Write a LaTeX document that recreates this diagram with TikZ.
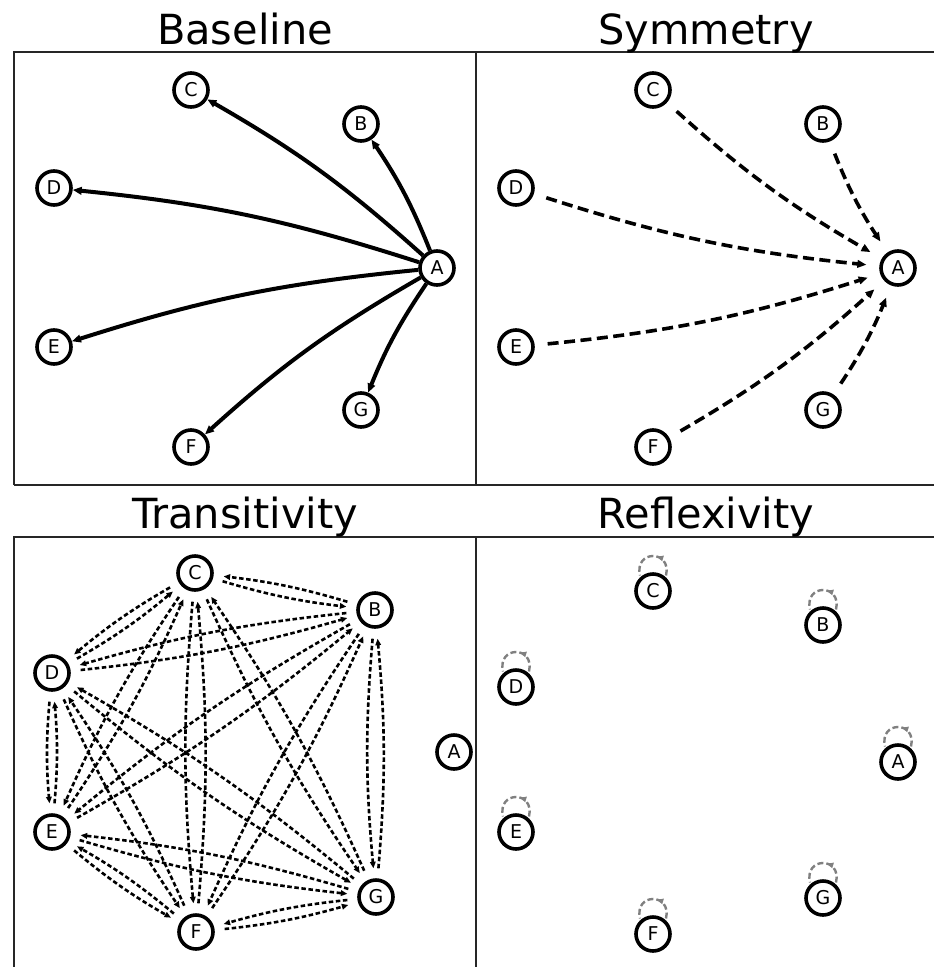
\documentclass[tikz,border=0pt]{standalone}
\usepackage{fontspec}
\setmainfont{DejaVu Sans}
\usetikzlibrary{arrows.meta,decorations.markings}
\begin{document}
\begin{tikzpicture}[x=1pt,y=1pt,
  vertex/.style={circle,draw=black,line width=3.6pt,fill=white,minimum size=34pt,
    inner sep=0pt,font=\fontsize{19}{19}\selectfont},
  paneltitle/.style={anchor=base,inner sep=0pt,font=\fontsize{41.5}{41.5}\selectfont},
  frame/.style={line width=1.2pt,draw=black!85},
  basearc/.style={line width=4pt,-{Triangle[length=9pt,width=7.5pt]}},
  symarc/.style={line width=3.6pt,dash pattern=on 11pt off 5.5pt,
    shorten <=13pt,shorten >=13pt,-{Triangle[length=9pt,width=7.5pt]}},
  transarc/.style={line width=2.6pt,dash pattern=on 4.5pt off 2.6pt,
    shorten <=10pt,shorten >=10pt,-{Triangle[length=6.5pt,width=5.5pt]}},
  loopline/.style={line width=2.4pt,draw=black!50,dash pattern=on 6pt off 3pt,
    postaction={decorate},
    decoration={markings,mark=at position 0.42 with {\arrow[black!50]{Triangle[length=6pt,width=5.5pt]}}}},
]
\useasboundingbox (0,0) rectangle (934,-967);
\clip (0,0) rectangle (934,-967);

% panel frames
\draw[frame] (14,-485) -- (14,-52) -- (940,-52);
\draw[frame] (14,-485) -- (940,-485);
\draw[frame] (476,-52) -- (476,-485);
\draw[frame] (14,-975) -- (14,-537) -- (940,-537);
\draw[frame] (476,-537) -- (476,-975);

% titles
\node[paneltitle] (t1) at (245,-44) {Baseline};
\node[paneltitle] (t2) at (706,-44) {Symmetry};
\node[paneltitle] (t3) at (245,-528) {Transitivity};
\node[paneltitle] (t4) at (706,-528) {Reflexivity};

% Baseline
\node[vertex] (aA) at (437,-268) {A};
\node[vertex] (aB) at (361,-124) {B};
\node[vertex] (aC) at (191,-90) {C};
\node[vertex] (aD) at (54,-188) {D};
\node[vertex] (aE) at (54,-347) {E};
\node[vertex] (aF) at (191,-447) {F};
\node[vertex] (aG) at (361,-410) {G};
\foreach \dst in {B,C,D,E,F,G}
  \draw[basearc] (aA) to[bend right=6] (a\dst);

% Symmetry
\node[vertex] (bA) at (898,-268) {A};
\node[vertex] (bB) at (823,-124) {B};
\node[vertex] (bC) at (653,-90) {C};
\node[vertex] (bD) at (516,-188) {D};
\node[vertex] (bE) at (516,-347) {E};
\node[vertex] (bF) at (653,-447) {F};
\node[vertex] (bG) at (823,-410) {G};
\foreach \src in {B,C,D,E,F,G}
  \draw[symarc] (b\src) to[bend right=6] (bA);

% Transitivity
\node[vertex] (cA) at (454,-752) {A};
\node[vertex] (cB) at (375,-610) {B};
\node[vertex] (cC) at (195,-573) {C};
\node[vertex] (cD) at (52,-673) {D};
\node[vertex] (cE) at (52,-832) {E};
\node[vertex] (cF) at (196,-932) {F};
\node[vertex] (cG) at (376,-897) {G};
\foreach \src in {B,C,D,E,F,G}{
  \foreach \dst in {B,C,D,E,F,G}{
    \ifx\src\dst\else
      \draw[transarc] (c\src) to[bend right=5] (c\dst);
    \fi
  }
}

% Reflexivity
\node[vertex] (dA) at (898,-762) {A};
\node[vertex] (dB) at (823,-625) {B};
\node[vertex] (dC) at (653,-591) {C};
\node[vertex] (dD) at (516,-687) {D};
\node[vertex] (dE) at (516,-832) {E};
\node[vertex] (dF) at (653,-934) {F};
\node[vertex] (dG) at (823,-898) {G};
\foreach \v in {A,B,C,D,E,F,G}
  \draw[loopline] ([shift={(13,15.5)}]d\v.center) .. controls +(6,26) and +(-6,26) .. ([shift={(-13,15.5)}]d\v.center);
\end{tikzpicture}
\end{document}
